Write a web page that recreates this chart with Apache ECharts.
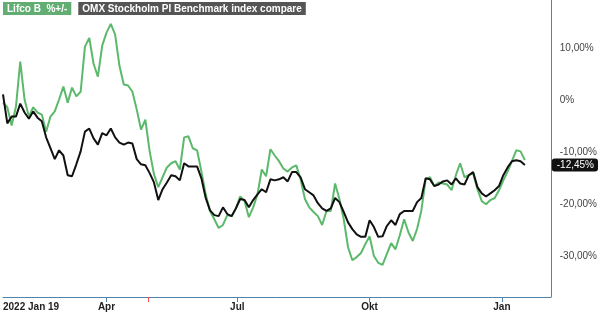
<!DOCTYPE html>
<html>
<head>
<meta charset="utf-8">
<script src="https://cdn.jsdelivr.net/npm/echarts@6/dist/echarts.min.js"></script>
<style>
html,body{margin:0;padding:0;background:#fff;}
#chart{width:600px;height:314px;}
</style>
</head>
<body>
<div id="chart"></div>
<script>
const seriesNames = ['Lifco B  %+/-', 'OMX Stockholm PI Benchmark index compare'];
const startDate = '2022-01-19';
const axisEndDate = '2023-02-04';
const sampleStepDays = 3;
const lifcoValues = [
  -0.4, -1.3, -4.8, -1.2, 7.5, 0.2, -3.1, -1.3, -2.3, -2.7,
  -6.0, -3.1, -2.1, 0.2, 2.7, -0.4, 2.5, 0.8, 1.7, 10.4,
  12.1, 7.1, 4.6, 10.6, 13.1, 14.8, 12.7, 6.7, 3.1, 2.9,
  1.7, -1.7, -5.6, -3.7, -9.8, -14.2, -16.7, -14.8, -12.9, -12.1,
  -11.7, -13.3, -7.1, -6.9, -9.2, -9.6, -13.7, -18.1, -21.3, -22.9,
  -24.6, -24.0, -22.1, -22.3, -20.8, -18.5, -19.4, -22.5, -20.6, -18.1,
  -13.3, -14.6, -9.4, -10.6, -11.7, -13.1, -13.7, -12.9, -12.5, -15.2,
  -19.0, -20.6, -21.5, -22.3, -24.0, -21.3, -21.3, -16.0, -19.0, -22.9,
  -28.3, -30.8, -30.2, -29.4, -27.7, -26.2, -30.0, -31.3, -31.7, -29.6,
  -27.5, -28.7, -26.0, -22.9, -25.4, -27.1, -24.8, -21.2, -15.2, -14.8,
  -16.5, -15.8, -16.0, -16.2, -17.3, -14.4, -12.1, -14.8, -14.4, -14.0,
  -17.1, -19.4, -20.0, -19.2, -18.8, -17.3, -15.4, -13.7, -11.7, -9.6,
  -9.8, -11.5
];
const omxValues = [
  1.2, -4.4, -3.1, -3.1, -0.6, -2.3, -3.5, -2.1, -3.3, -4.0,
  -7.1, -9.2, -11.3, -9.6, -10.6, -14.4, -14.6, -12.3, -9.8, -6.0,
  -5.4, -7.3, -8.5, -6.3, -6.7, -5.4, -7.1, -8.1, -8.5, -8.1,
  -8.3, -11.3, -12.3, -12.5, -14.0, -15.8, -19.2, -17.1, -15.8, -14.4,
  -14.6, -15.4, -12.1, -12.7, -12.7, -12.7, -15.0, -18.8, -21.2, -22.1,
  -22.3, -20.6, -21.9, -22.3, -20.8, -19.0, -19.2, -20.6, -19.2, -18.1,
  -17.1, -17.7, -15.2, -15.4, -15.2, -14.8, -15.6, -13.8, -13.8, -14.8,
  -17.1, -17.7, -18.3, -19.8, -20.8, -21.3, -20.8, -18.8, -19.6, -21.5,
  -23.5, -24.8, -25.8, -26.3, -26.3, -23.1, -24.4, -26.3, -26.2, -24.2,
  -23.1, -24.0, -21.9, -21.3, -21.3, -21.3, -19.6, -18.8, -15.0, -15.2,
  -16.5, -16.2, -15.6, -15.4, -16.2, -15.0, -16.0, -16.2, -14.4, -13.8,
  -16.7, -17.9, -18.5, -17.9, -17.3, -16.5, -14.4, -12.9, -11.7, -11.5,
  -11.7, -12.45
];
const xTickDates = ['2022-01-19', '2022-04-01', '2022-07-01', '2022-10-01', '2023-01-01'];
const xTickLabels = ['2022 Jan 19', 'Apr', 'Jul', 'Okt', 'Jan'];
const eventDates = ['2022-04-30'];
const yTickValues = [10, 0, -10, -20, -30];
const yMin = -37.9, yMax = 19.4;

const ts = s => new Date(s + 'T00:00:00').getTime();
const DAY = 86400000;
const t0 = ts(startDate);
const tEnd = ts(axisEndDate);
const sampleTimes = lifcoValues.map((_, i) => t0 + i * sampleStepDays * DAY);
const lifcoData = lifcoValues.map((v, i) => [sampleTimes[i], v]);
const omxData = omxValues.map((v, i) => [sampleTimes[i], v]);
const xTickTimes = xTickDates.map(ts);
const eventTimes = eventDates.map(ts);
const lastOmx = omxValues[omxValues.length - 1];
const pct = v => v === 0 ? '0%' : v.toFixed(2).replace('.', ',') + '%';
const FONT = "'Liberation Sans', Arial, sans-serif";
const AXIS_COLOR = '#4f85ad';

const chart = echarts.init(document.getElementById('chart'), null, {renderer: 'canvas'});
chart.setOption({
  animation: false,
  textStyle: {fontFamily: FONT},
  grid: {left: 0, right: 44, top: 0, bottom: 17, containLabel: false},
  legend: {
    data: seriesNames,
    left: -2, top: 2, padding: 0,
    selectedMode: false,
    icon: 'rect', itemWidth: 0, itemHeight: 0, itemGap: 2,
    formatter: n => n === seriesNames[0] ? '{a|' + n + '}' : '{b|' + n + '}',
    textStyle: {
      fontFamily: FONT,
      rich: {
        a: {backgroundColor: '#62ad71', color: '#fff', fontWeight: 'bold', fontSize: 10, lineHeight: 12, fontFamily: FONT, padding: [2, 4, 1, 4]},
        b: {backgroundColor: '#555555', color: '#fff', fontWeight: 'bold', fontSize: 10, lineHeight: 12, fontFamily: FONT, padding: [2, 4, 1, 4]}
      }
    }
  },
  xAxis: [{
    type: 'value',
    min: t0, max: tEnd,
    axisLine: {show: true, onZero: false, lineStyle: {color: AXIS_COLOR, width: 1}},
    axisTick: {show: true, length: 5, lineStyle: {color: AXIS_COLOR}, customValues: xTickTimes.slice(1)},
    axisLabel: {
      customValues: xTickTimes,
      alignMinLabel: 'left',
      formatter: v => { const i = xTickTimes.indexOf(v); return i >= 0 ? xTickLabels[i] : ''; },
      color: '#222', fontWeight: 'bold', fontSize: 10, fontFamily: FONT, margin: 5
    },
    splitLine: {show: false}
  }, {
    type: 'value',
    min: t0, max: tEnd,
    position: 'bottom',
    axisLine: {show: false, onZero: false},
    axisTick: {show: true, length: 5, lineStyle: {color: '#ff5050'}, customValues: eventTimes},
    axisLabel: {show: false},
    splitLine: {show: false}
  }],
  yAxis: {
    type: 'value',
    position: 'right',
    min: yMin, max: yMax,
    axisLine: {show: true, lineStyle: {color: AXIS_COLOR, width: 1}},
    axisTick: {show: false},
    splitLine: {show: false},
    axisLabel: {
      customValues: yTickValues,
      formatter: pct,
      color: '#444', fontSize: 10, fontFamily: FONT, margin: 9
    }
  },
  series: [{
    name: seriesNames[0],
    type: 'line',
    data: lifcoData,
    showSymbol: false,
    lineStyle: {color: '#5cb96b', width: 2},
    itemStyle: {color: '#5cb96b'}
  }, {
    name: seriesNames[1],
    type: 'line',
    data: omxData,
    showSymbol: false,
    lineStyle: {color: '#111', width: 2},
    itemStyle: {color: '#555555'},
    markLine: {
      silent: true,
      symbol: 'none',
      lineStyle: {color: 'rgba(0,0,0,0)', width: 0, type: 'solid'},
      data: [{yAxis: lastOmx}],
      label: {
        show: true, position: 'end', distance: 1,
        formatter: () => pct(lastOmx),
        backgroundColor: '#111', color: '#fff', fontSize: 10, fontFamily: FONT,
        padding: [2, 4, 1, 5], borderRadius: 3, opacity: 1
      }
    }
  }]
});
</script>
</body>
</html>
